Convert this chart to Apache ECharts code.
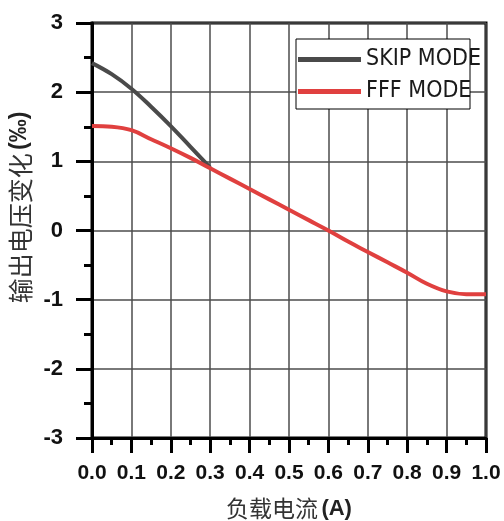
<!DOCTYPE html>
<html>
<head>
<meta charset="utf-8">
<script src="https://cdn.jsdelivr.net/npm/echarts@6/dist/echarts.min.js"></script>
<style>
    html, body { margin: 0; padding: 0; background: #fff; }
    #chart { width: 504px; height: 521px; }
</style>
</head>
<body>
<div id="chart"></div>
<script>
// load current (A)
var loadCurrent = [0, 0.05, 0.1, 0.15, 0.2, 0.25, 0.3, 0.35, 0.4, 0.45, 0.5,
    0.55, 0.6, 0.65, 0.7, 0.75, 0.8, 0.85, 0.9, 0.95, 1.0];
// output voltage change (‰)
var skipMode = [2.42, 2.26, 2.05, 1.79, 1.51, 1.21, 0.91];
var fffMode = [1.51, 1.5, 1.45, 1.32, 1.19, 1.05, 0.9, 0.75, 0.6, 0.45, 0.3,
    0.15, 0.0, -0.16, -0.31, -0.46, -0.61, -0.77, -0.88, -0.92, -0.92];
var seriesNames = ['SKIP MODE', 'FFF MODE'];

function toPairs(xs, ys) {
    var out = [];
    for (var i = 0; i < ys.length; i++) {
        out.push([xs[i], ys[i]]);
    }
    return out;
}

var latin = "'Liberation Sans', Arial, sans-serif";
var narrow = "'Liberation Sans Narrow', 'DejaVu Sans Condensed', sans-serif";
var cjk = "'Noto Sans CJK SC', sans-serif";

var option = {
    animation: false,
    backgroundColor: '#fff',
    grid: {
        left: 92, right: 18, top: 23, bottom: 83,
        containLabel: false,
        outerBoundsMode: 'none',
        show: true,
        borderColor: '#000',
        borderWidth: 3
    },
    legend: {
        orient: 'vertical',
        left: 296,
        top: 39,
        padding: [9, -11, 6, 2],
        icon: 'rect',
        itemWidth: 63,
        itemHeight: 5,
        itemGap: 9,
        backgroundColor: '#fff',
        borderColor: '#000',
        borderWidth: 1,
        borderRadius: 0,
        textStyle: { fontFamily: narrow, fontSize: 23, color: '#1a1a1a' },
        data: seriesNames
    },
    xAxis: {
        type: 'value',
        min: 0, max: 1, interval: 0.1,
        name: '{c|负载电流} {b|(A)}',
        nameLocation: 'middle',
        nameGap: 59,
        nameTextStyle: {
            rich: {
                c: { fontFamily: cjk, fontSize: 23, color: '#333' },
                b: { fontFamily: latin, fontSize: 22, fontWeight: 'bold', color: '#222' }
            }
        },
        axisLine: { onZero: false, lineStyle: { color: '#000', width: 3 } },
        axisTick: { length: 15, lineStyle: { color: '#000', width: 3 } },
        minorTick: { show: true, splitNumber: 2, length: 7, lineStyle: { color: '#000', width: 3 } },
        splitLine: { show: true, lineStyle: { color: '#4d4d4d', width: 1.5 } },
        axisLabel: {
            margin: 25,
            fontFamily: latin, fontSize: 21, fontWeight: 'bold', color: '#111',
            formatter: function (v) { return v.toFixed(1); }
        }
    },
    yAxis: {
        type: 'value',
        min: -3, max: 3, interval: 1,
        name: '{c|输出电压变化} {b|(‰)}',
        nameLocation: 'middle',
        nameGap: 59,
        nameTextStyle: {
            padding: [0, 0, 0, 46],
            rich: {
                c: { fontFamily: cjk, fontSize: 25, color: '#333' },
                b: { fontFamily: latin, fontSize: 23, fontWeight: 'bold', color: '#222' }
            }
        },
        axisLine: { onZero: false, lineStyle: { color: '#000', width: 3 } },
        axisTick: { length: 16, lineStyle: { color: '#000', width: 3 } },
        minorTick: { show: true, splitNumber: 2, length: 8, lineStyle: { color: '#000', width: 3 } },
        splitLine: { show: true, lineStyle: { color: '#4d4d4d', width: 1.5 } },
        axisLabel: {
            margin: 29,
            fontFamily: latin, fontSize: 22, fontWeight: 'bold', color: '#111'
        }
    },
    series: [
        {
            name: seriesNames[0],
            type: 'line',
            smooth: 0.4,
            symbol: 'none',
            color: '#4a4a4a',
            lineStyle: { width: 4, color: '#4a4a4a' },
            data: toPairs(loadCurrent, skipMode),
            z: 2
        },
        {
            name: seriesNames[1],
            type: 'line',
            smooth: 0.4,
            symbol: 'none',
            color: '#e0403f',
            lineStyle: { width: 4, color: '#e0403f' },
            data: toPairs(loadCurrent, fffMode),
            z: 3
        }
    ]
};

var myChart = echarts.init(document.getElementById('chart'));
myChart.setOption(option);
</script>
</body>
</html>
